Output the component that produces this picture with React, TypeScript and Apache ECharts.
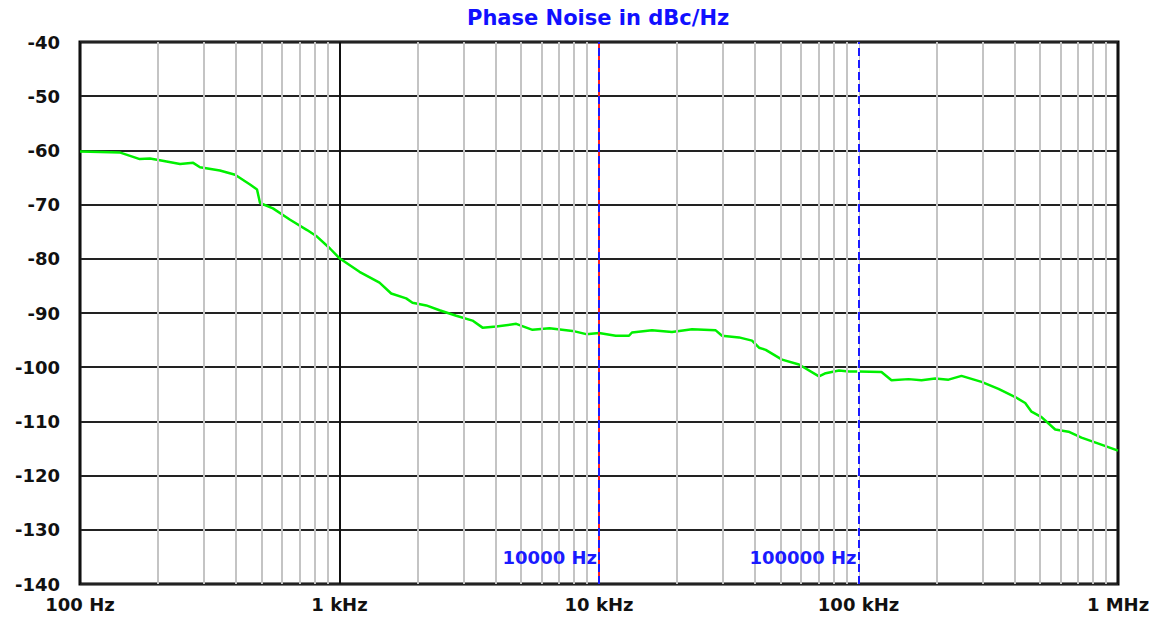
import React, { useEffect, useRef } from "react";
import * as echarts from "echarts";

// Phase noise trace (offset frequency in Hz, level in dBc/Hz)
const freqHz = [100, 143, 170, 186, 203, 243, 273, 290, 346, 396, 452, 481, 494, 554, 645, 750, 819, 919, 1000, 1194, 1426, 1582, 1807, 1911, 2159, 2429, 2817, 3254, 3557, 4018, 4798, 5543, 6446, 7906, 8926, 10000, 11600, 13050, 13400, 16000, 19110, 22830, 28170, 29790, 34630, 38870, 41360, 43900, 50730, 58970, 70420, 74740, 84120, 91920, 100000, 122600, 134000, 155900, 174900, 197500, 222300, 249400, 297900, 346300, 401800, 439000, 464200, 507300, 572800, 644600, 723300, 841200, 1000000];
const dBc = [-60.2, -60.4, -61.6, -61.5, -61.8, -62.5, -62.3, -63.1, -63.7, -64.5, -66.3, -67.2, -69.7, -70.7, -72.8, -74.7, -75.9, -78.1, -79.9, -82.4, -84.4, -86.4, -87.3, -88.1, -88.6, -89.5, -90.5, -91.4, -92.7, -92.5, -92.0, -93.1, -92.8, -93.3, -93.9, -93.7, -94.2, -94.2, -93.6, -93.2, -93.5, -93.0, -93.2, -94.2, -94.5, -95.1, -96.4, -96.8, -98.6, -99.5, -101.7, -101.1, -100.6, -100.8, -100.8, -100.9, -102.4, -102.2, -102.4, -102.1, -102.3, -101.6, -102.7, -104.0, -105.5, -106.6, -108.2, -109.2, -111.5, -111.9, -113.0, -114.1, -115.4];

// Axis ticks
const decadeHz = [100, 1000, 10000, 100000, 1000000];
const xTickLabels = ["100 Hz", "1 kHz", "10 kHz", "100 kHz", "1 MHz"];
const minorMultipliers = [2, 3, 4, 5, 6, 7, 8, 9];
const yMin = -140;
const yMax = -40;
const yStep = 10;

// Markers
const markerHz = [10000, 100000];
const markerLabels = ["10000 Hz", "100000 Hz"];
const markerLabelLevel = -135.2;

const title = "Phase Noise in dBc/Hz";

export default function App() {
  const ref = useRef<HTMLDivElement>(null);
  useEffect(() => {
    if (!ref.current) return;
    const chart = echarts.init(ref.current, undefined, { renderer: "svg" });
    const minorHz: number[] = [];
    decadeHz.slice(0, -1).forEach((d) => minorMultipliers.forEach((m) => minorHz.push(d * m)));
    const font = "DejaVu Sans";
    const blue = "#1a1aff";
    const markerLine = (f: number, color: string, type: any, width: number, z: number) => ({
      type: "line",
      data: [],
      z,
      silent: true,
      markLine: {
        silent: true,
        symbol: "none",
        label: { show: false },
        lineStyle: { color, width, type },
        data: [{ xAxis: f }],
      },
    });
    chart.setOption({
      animation: false,
      backgroundColor: "#ffffff",
      title: {
        text: title,
        left: 462,
        top: 2,
        textStyle: { color: "#1010ff", fontFamily: font, fontWeight: "bold", fontSize: 21 },
      },
      grid: {
        left: 80,
        right: 39,
        top: 42,
        bottom: 39,
        show: true,
        borderColor: "#000000",
        borderWidth: 3,
        containLabel: false,
      },
      xAxis: {
        type: "log",
        logBase: 10,
        min: decadeHz[0],
        max: decadeHz[decadeHz.length - 1],
        z: 1,
        axisLine: { show: false },
        axisTick: { show: false },
        splitLine: { show: true, lineStyle: { color: "#111111", width: 2 } },
        axisLabel: {
          margin: 11,
          color: "#111111",
          fontFamily: font,
          fontWeight: "bold",
          fontSize: 18,
          formatter: (v: number) => {
            const i = decadeHz.findIndex((d) => Math.abs(Math.log10(d) - Math.log10(v)) < 1e-6);
            return i >= 0 ? xTickLabels[i] : "";
          },
        },
      },
      yAxis: {
        type: "value",
        min: yMin,
        max: yMax,
        interval: yStep,
        z: 1,
        axisLine: { show: false },
        axisTick: { show: false },
        splitLine: { show: true, lineStyle: { color: "#222222", width: 2 } },
        axisLabel: {
          margin: 20,
          color: "#111111",
          fontFamily: font,
          fontWeight: "bold",
          fontSize: 18,
        },
      },
      series: [
        {
          type: "line",
          data: [],
          z: 0,
          silent: true,
          markLine: {
            silent: true,
            symbol: "none",
            label: { show: false },
            lineStyle: { color: "#c4c4c4", width: 2, type: "solid" },
            data: minorHz.map((f) => ({ xAxis: f })),
          },
        },
        {
          type: "line",
          data: freqHz.map((f, i) => [f, dBc[i]]),
          showSymbol: false,
          z: 3,
          lineStyle: { color: "#00f000", width: 2.5 },
          itemStyle: { color: "#00f000" },
        },
        markerLine(markerHz[0], "#ff2020", "solid", 2, 4),
        markerLine(markerHz[1], "#ffffff", "solid", 2.5, 4),
        markerLine(markerHz[0], blue, "dashed", 2, 5),
        markerLine(markerHz[1], blue, "dashed", 2, 5),
        {
          type: "scatter",
          z: 6,
          silent: true,
          symbolSize: 0,
          itemStyle: { opacity: 1 },
          data: markerHz.map((f, i) => ({ value: [f, markerLabelLevel], name: markerLabels[i] })),
          label: {
            show: true,
            position: "left",
            distance: 2,
            formatter: (p: any) => p.name,
            color: blue,
            fontFamily: font,
            fontWeight: "bold",
            fontSize: 18,
          },
        },
      ],
    });
    return () => chart.dispose();
  }, []);
  return (
    <div
      ref={ref}
      style={{ position: "fixed", left: 0, top: 0, width: 1157, height: 623, background: "#fff" }}
    />
  );
}
